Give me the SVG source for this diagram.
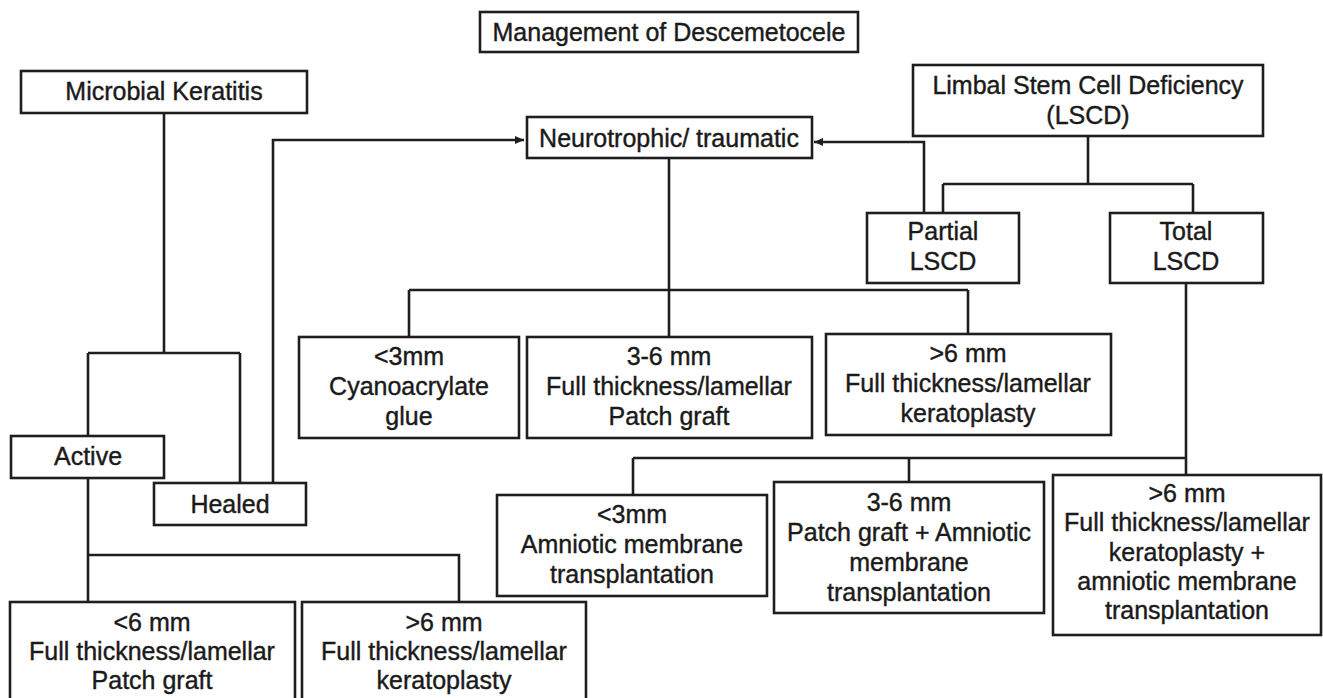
<svg xmlns="http://www.w3.org/2000/svg" width="1323" height="698" viewBox="0 0 1323 698">
<defs>
<style>
.box{fill:#fff;stroke:#1e1e1e;stroke-width:2.6}
.t{font-family:"Liberation Sans",Arial,sans-serif;font-size:25px;fill:#1a1a1a;stroke:#1a1a1a;stroke-width:0.4;text-anchor:middle}
.c{fill:none;stroke:#1e1e1e;stroke-width:2.6}
</style>
<marker id="ah" markerUnits="userSpaceOnUse" markerWidth="10" markerHeight="8" refX="9" refY="4" orient="auto">
<path d="M0,0 L9,4 L0,8 Z" fill="#1e1e1e"/>
</marker>
</defs>
<rect width="1323" height="698" fill="#fff"/>
<g id="connectors">
<path class="c" d="M164,113 V353 M88,353 H240 M88,353 V436 M240,353 V483"/>
<path class="c" d="M88,478 V602 M88,555 H459 V602"/>
<path class="c" d="M273,483 V140 H524" marker-end="url(#ah)"/>
<path class="c" d="M924,213 V142 H814" marker-end="url(#ah)"/>
<path class="c" d="M1088,136 V184 M943,184 H1193 M943,184 V213 M1193,184 V213"/>
<path class="c" d="M669,158 V337 M409,290 H968 M409,290 V337 M968,290 V334"/>
<path class="c" d="M1186,283 V475 M633,458 H1186 M633,458 V495 M909,458 V482"/>
</g>
<g id="title"><rect class="box" x="480" y="12" width="378" height="40"/><text class="t" x="669" y="41">Management of Descemetocele</text></g>
<g id="microbial"><rect class="box" x="21" y="71" width="286" height="42"/><text class="t" x="164" y="100">Microbial Keratitis</text></g>
<g id="neurotrophic"><rect class="box" x="527" y="117" width="285" height="41"/><text class="t" x="669" y="147">Neurotrophic/ traumatic</text></g>
<g id="lscd"><rect class="box" x="913" y="65" width="350" height="71"/><text class="t" x="1088" y="94">Limbal Stem Cell Deficiency</text><text class="t" x="1088" y="124">(LSCD)</text></g>
<g id="partial"><rect class="box" x="867" y="213" width="152" height="70"/><text class="t" x="943" y="240">Partial</text><text class="t" x="943" y="270">LSCD</text></g>
<g id="total"><rect class="box" x="1110" y="213" width="153" height="70"/><text class="t" x="1186" y="240">Total</text><text class="t" x="1186" y="270">LSCD</text></g>
<g id="active"><rect class="box" x="11" y="436" width="153" height="42"/><text class="t" x="88" y="465">Active</text></g>
<g id="healed"><rect class="box" x="154" y="483" width="152" height="42"/><text class="t" x="230" y="513">Healed</text></g>
<g id="nt-lt3"><rect class="box" x="299" y="337" width="220" height="101"/><text class="t" x="409" y="365">&lt;3mm</text><text class="t" x="409" y="395">Cyanoacrylate</text><text class="t" x="409" y="425">glue</text></g>
<g id="nt-3to6"><rect class="box" x="527" y="337" width="285" height="101"/><text class="t" x="669" y="365">3-6 mm</text><text class="t" x="669" y="395">Full thickness/lamellar</text><text class="t" x="669" y="425">Patch graft</text></g>
<g id="nt-gt6"><rect class="box" x="826" y="334" width="285" height="101"/><text class="t" x="968" y="362">&gt;6 mm</text><text class="t" x="968" y="392">Full thickness/lamellar</text><text class="t" x="968" y="422">keratoplasty</text></g>
<g id="tl-lt3"><rect class="box" x="497" y="495" width="270" height="101"/><text class="t" x="632" y="523">&lt;3mm</text><text class="t" x="632" y="553">Amniotic membrane</text><text class="t" x="632" y="583">transplantation</text></g>
<g id="tl-3to6"><rect class="box" x="774" y="482" width="270" height="131"/><text class="t" x="909" y="511">3-6 mm</text><text class="t" x="909" y="541">Patch graft + Amniotic</text><text class="t" x="909" y="571">membrane</text><text class="t" x="909" y="601">transplantation</text></g>
<g id="tl-gt6"><rect class="box" x="1053" y="475" width="268" height="160"/><text class="t" x="1187" y="502">&gt;6 mm</text><text class="t" x="1187" y="531">Full thickness/lamellar</text><text class="t" x="1187" y="561">keratoplasty +</text><text class="t" x="1187" y="590">amniotic membrane</text><text class="t" x="1187" y="619">transplantation</text></g>
<g id="act-lt6"><rect class="box" x="10" y="602" width="285" height="110"/><text class="t" x="152" y="631">&lt;6 mm</text><text class="t" x="152" y="660">Full thickness/lamellar</text><text class="t" x="152" y="689">Patch graft</text></g>
<g id="act-gt6"><rect class="box" x="302" y="602" width="284" height="110"/><text class="t" x="444" y="631">&gt;6 mm</text><text class="t" x="444" y="660">Full thickness/lamellar</text><text class="t" x="444" y="689">keratoplasty</text></g>
</svg>
